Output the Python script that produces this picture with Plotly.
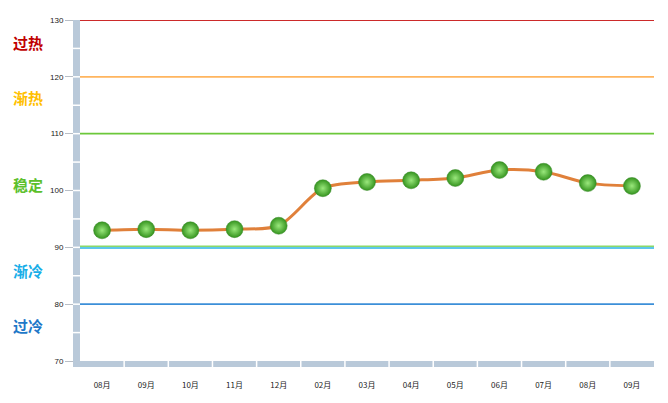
import plotly.graph_objects as go

categories = ["08月", "09月", "10月", "11月", "12月", "02月", "03月", "04月", "05月", "06月", "07月", "08月", "09月"]
values = [93.0, 93.2, 93.0, 93.2, 93.8, 100.4, 101.5, 101.8, 102.2, 103.6, 103.3, 101.3, 100.8]

y_ticks = [70, 80, 90, 100, 110, 120, 130]
zone_lines = [130, 120, 110, 90, 80]
zone_line_colors = ["#cc2a2a", "#ffb55e", "#6cc83a", "#28b4e6", "#3c8fd8"]
zone_labels = ["过热", "渐热", "稳定", "渐冷", "过冷"]
zone_label_y = [126.1, 116.3, 101.1, 86.0, 76.2]
zone_label_colors = ["#c00000", "#ffc000", "#5cc02c", "#18aee8", "#1e78c8"]

x = list(range(len(categories)))

fig = go.Figure()

fig.add_trace(go.Scatter(
    x=x, y=values, mode="lines+markers",
    line=dict(color="#e0803a", width=3, shape="spline", smoothing=0.8),
    marker=dict(size=17, color="#35941f",
                gradient=dict(type="radial", color="#9ae87c"),
                line=dict(color="#3a8a2a", width=0.5)),
    hoverinfo="x+y", showlegend=False,
))

shapes = []
wl = -7 / 574
wb = -6 / 341
shapes.append(dict(type="rect", xref="paper", yref="paper", x0=wl, x1=0, y0=wb, y1=1,
                   fillcolor="#b9c9d9", line=dict(width=0), layer="above"))
shapes.append(dict(type="rect", xref="paper", yref="paper", x0=wl, x1=1, y0=wb, y1=0,
                   fillcolor="#b9c9d9", line=dict(width=0), layer="above"))
for i in range(len(categories) - 1):
    shapes.append(dict(type="line", xref="x", yref="paper", x0=i + 0.5, x1=i + 0.5, y0=wb, y1=0,
                       line=dict(color="white", width=1.5), layer="above"))
for v in range(75, 130, 5):
    shapes.append(dict(type="line", xref="paper", yref="y", x0=wl, x1=0, y0=v, y1=v,
                       line=dict(color="white", width=1.5), layer="above"))
for v, c in zip(zone_lines, zone_line_colors):
    if v == 90:
        shapes.append(dict(type="line", xref="paper", yref="y", x0=0, x1=1, y0=v + 0.18, y1=v + 0.18,
                           line=dict(color="#8ad86a", width=1.5), layer="below"))
        shapes.append(dict(type="line", xref="paper", yref="y", x0=0, x1=1, y0=v - 0.1, y1=v - 0.1,
                           line=dict(color=c, width=1.5), layer="below"))
    else:
        shapes.append(dict(type="line", xref="paper", yref="y", x0=0, x1=1, y0=v, y1=v,
                           line=dict(color=c, width=1.8), layer="below"))

annotations = []
for t, yv, c in zip(zone_labels, zone_label_y, zone_label_colors):
    annotations.append(dict(text=f"<b>{t}</b>", x=-52 / 574, xref="paper", y=yv, yref="y",
                            xanchor="center", yanchor="middle", showarrow=False,
                            font=dict(size=15, color=c, family="Noto Sans CJK SC")))

fig.update_layout(
    width=668, height=403,
    margin=dict(l=80, r=14, t=20, b=42),
    paper_bgcolor="white", plot_bgcolor="white",
    shapes=shapes, annotations=annotations,
    xaxis=dict(range=[-0.5, len(categories) - 0.5], tickmode="array", tickvals=x, ticktext=categories,
               showgrid=False, zeroline=False, showline=False,
               ticks="outside", ticklen=16, tickcolor="rgba(0,0,0,0)",
               tickfont=dict(size=8, color="#222", family="Noto Sans CJK SC")),
    yaxis=dict(range=[70, 130], tickmode="array", tickvals=y_ticks,
               showgrid=False, zeroline=False, showline=False,
               ticks="outside", ticklen=14, tickcolor="#b8bec6", tickwidth=1,
               tickfont=dict(size=8, color="#222", family="Liberation Sans")),
    font=dict(family="Liberation Sans"),
)

fig.write_html("out.html", config={"displayModeBar": False},
               post_script="document.body.style.margin='0';document.body.style.overflow='hidden';")
